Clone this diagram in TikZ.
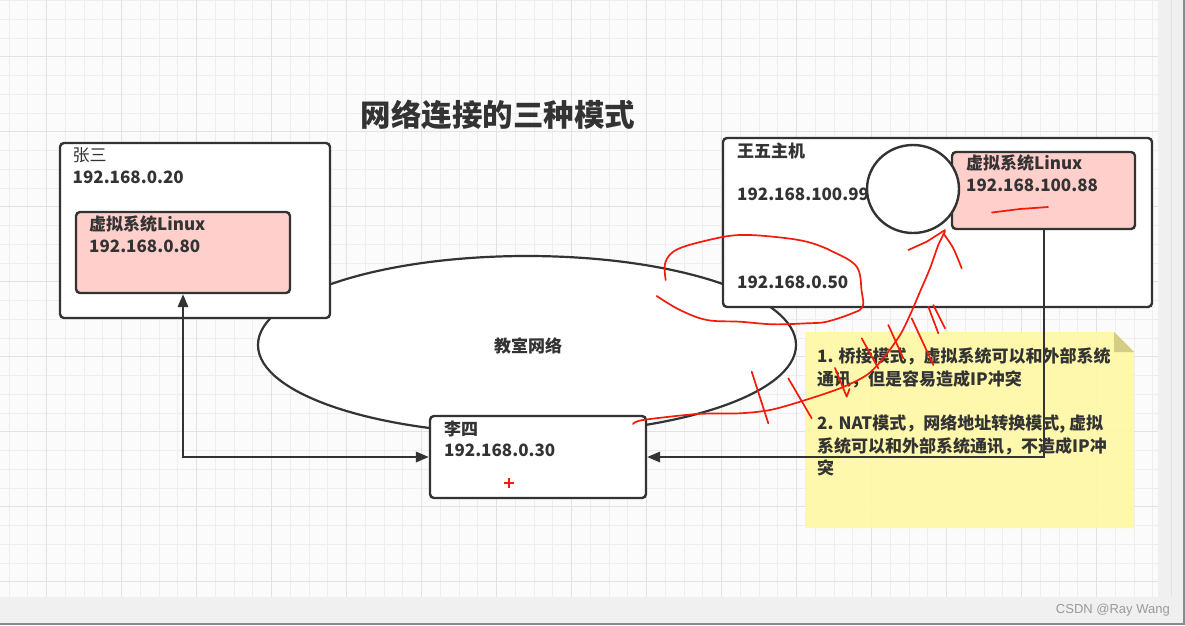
\documentclass[tikz,border=0pt]{standalone}
\usepackage{fontspec}
\setmainfont{Noto Sans CJK SC}
\newfontfamily\wmfont{Liberation Sans}
\usetikzlibrary{shapes.geometric,arrows.meta}
\definecolor{ink}{HTML}{333333}
\definecolor{pinkfill}{HTML}{FFCFCC}
\definecolor{notefill}{HTML}{FFF8A6}
\definecolor{notefold}{HTML}{D4CD86}
\definecolor{canvasbg}{HTML}{FBFBFB}
\definecolor{gridminor}{HTML}{EEEEEE}
\definecolor{gridmajor}{HTML}{E2E2E2}
\definecolor{outerbg}{HTML}{F0F0F0}
\definecolor{frameline}{HTML}{8A8A8A}
\definecolor{pen}{HTML}{F51A0A}
\definecolor{wmgray}{HTML}{9A9A9A}
\begin{document}
\begin{tikzpicture}[x=1pt,y=-1pt,
  box/.style={draw=ink, line width=2.4pt, rounded corners=4pt, fill=white, inner sep=0pt},
  vmbox/.style={box, fill=pinkfill},
  txt/.style={inner sep=0pt, text=ink, font=\fontsize{17}{20}\selectfont},
  btxt/.style={inner sep=0pt, text=ink, font=\fontsize{17}{20}\selectfont\bfseries},
  conn/.style={draw=ink, line width=2pt},
  tipend/.style={-{Triangle[length=13pt,width=10.5pt]}},
  tipboth/.style={{Triangle[length=13pt,width=10.5pt]}-{Triangle[length=13pt,width=10.5pt]}},
  scrib/.style={draw=pen, line width=1.7pt, line cap=round, line join=round}]
\useasboundingbox (0,0) rectangle (1185,625);
% background
\fill[outerbg] (0,0) rectangle (1185,625);
\fill[canvasbg] (0,0) rectangle (1158,597);
\foreach \i in {0,...,61} {
  \draw[gridminor, line width=0.8pt] ({9+18.75*\i},0) -- ({9+18.75*\i},597);
}
\foreach \j in {0,...,31} {
  \draw[gridminor, line width=0.8pt] (0,{0.5+18.75*\j}) -- (1158,{0.5+18.75*\j});
}
\foreach \i in {0,...,15} {
  \draw[gridmajor, line width=1pt] ({46.5+75*\i},0) -- ({46.5+75*\i},597);
}
\foreach \j in {0,...,7} {
  \draw[gridmajor, line width=1pt] (0,{56.75+75*\j}) -- (1158,{56.75+75*\j});
}
\draw[frameline, line width=2pt] (1184,0) -- (1184,624) -- (0,624);
\node[anchor=base east, inner sep=0pt, text=wmgray, font=\wmfont\fontsize{13}{15}\selectfont] (wm) at (1170,613) {CSDN @Ray Wang};

% title
\node[inner sep=0pt, text=ink, font=\fontsize{30.5}{34}\selectfont\bfseries] (title) at (498,114.5) {网络连接的三种模式};

% network ellipse
\node[ellipse, draw=ink, line width=2.2pt, fill=white, minimum width=538pt, minimum height=178pt, inner sep=0pt] (net) at (527,345) {};
\node[btxt] (netlabel) at (528,345.5) {教室网络};

% boxes
\node[box, minimum width=270pt, minimum height=175pt] (zs) at (195,230.5) {};
\node[vmbox, minimum width=214pt, minimum height=81pt] (zsvm) at (183,252.5) {};
\node[box, minimum width=429pt, minimum height=169pt] (ww) at (937.5,222.5) {};
\node[vmbox, minimum width=183pt, minimum height=77pt] (wwvm) at (1043.5,190.5) {};
\node[ellipse, draw=ink, line width=2.4pt, fill=white, minimum width=92pt, minimum height=88pt, inner sep=0pt] (sw) at (913,189) {};
\node[box, minimum width=216pt, minimum height=82pt] (ls) at (538,457) {};

% sticky note
\fill[notefill, fill opacity=0.93] (805,332) -- (1114,332) -- (1134,352) -- (1134,528) -- (805,528) -- cycle;
\fill[notefold] (1114,332) -- (1134,352) -- (1114,352) -- cycle;

% connectors
\draw[conn, tipboth] (zsvm.south) |- (ls.west);
\draw[conn, tipend] (wwvm.south) |- (ls.east);

% texts
\node[txt, anchor=base west] (zsname) at (72.5,161.5) {张三};
\node[btxt, anchor=base west] (zsip) at (72.5,183) {192.168.0.20};
\node[btxt, anchor=base west] (zsvmname) at (89,230.5) {虚拟系统Linux};
\node[btxt, anchor=base west] (zsvmip) at (89,252) {192.168.0.80};
\node[btxt, anchor=base west] (wwname) at (737,157) {王五主机};
\node[btxt, anchor=base west] (wwip1) at (737,200) {192.168.100.99};
\node[btxt, anchor=base west] (wwip2) at (737,288) {192.168.0.50};
\node[btxt, anchor=base west] (wwvmname) at (966,169) {虚拟系统Linux};
\node[btxt, anchor=base west] (wwvmip) at (966,191) {192.168.100.88};
\node[btxt, anchor=base west] (lsname) at (444,435) {李四};
\node[btxt, anchor=base west] (lsip) at (444,456.5) {192.168.0.30};
\node[btxt, anchor=base west] (note1) at (817,362) {1. 桥接模式，虚拟系统可以和外部系统};
\node[btxt, anchor=base west] (note2) at (817,385) {通讯，但是容易造成IP冲突};
\node[btxt, anchor=base west] (note3) at (817,429) {2. NAT模式，网络地址转换模式, 虚拟};
\node[btxt, anchor=base west] (note4) at (817,452) {系统可以和外部系统通讯，不造成IP冲};
\node[btxt, anchor=base west] (note5) at (817,474) {突};

% red hand-drawn annotations
\draw[scrib] plot[smooth, tension=0.6] coordinates {(665.7,280) (665.5,262) (678,249) (713,239) (740,235) (773,236.7) (806.7,241.7) (833,251.7) (856.7,266.7) (861.7,291.7) (862.7,306.7) (853,313) (826.7,321.7) (806.7,323.3) (773,324.3) (740,321.7) (707,320) (680,310) (656.7,296)};
\draw[scrib] plot[smooth, tension=0.5] coordinates {(633,424) (643,420) (697,414) (740,413.3) (770,410) (800,401.7) (840,388.3) (866.7,375) (883.3,358.3) (900,335) (910,315) (920,291.7) (930,268.3) (938.3,245) (945,231.5)};
\draw[scrib] (908.3,250) -- (926.7,241.7) -- (945,230);
\draw[scrib] plot[smooth, tension=0.5] coordinates {(943.3,233.3) (953.3,248.3) (961.7,268.3)};
\draw[scrib] (751.7,371.7) -- (768.3,423.3);
\draw[scrib] (788.3,378.3) -- (811.7,418.3);
\draw[scrib] (835,368) -- (846.7,396.7) -- (849.5,389);
\draw[scrib] (861.7,338.3) -- (878.3,368.3);
\draw[scrib] (888.3,325) -- (903.3,358.3);
\draw[scrib] (911.7,318.3) -- (933.3,365);
\draw[scrib] (928.3,306.7) -- (938.3,333.3);
\draw[scrib] (933.3,305) -- (945,328.3);
\draw[scrib] (992,212.5) -- (1020,209) -- (1048,207);
\draw[pen, line width=1.4pt] (504,483) -- (514,483) (509,478) -- (509,488);
\end{tikzpicture}
\end{document}
